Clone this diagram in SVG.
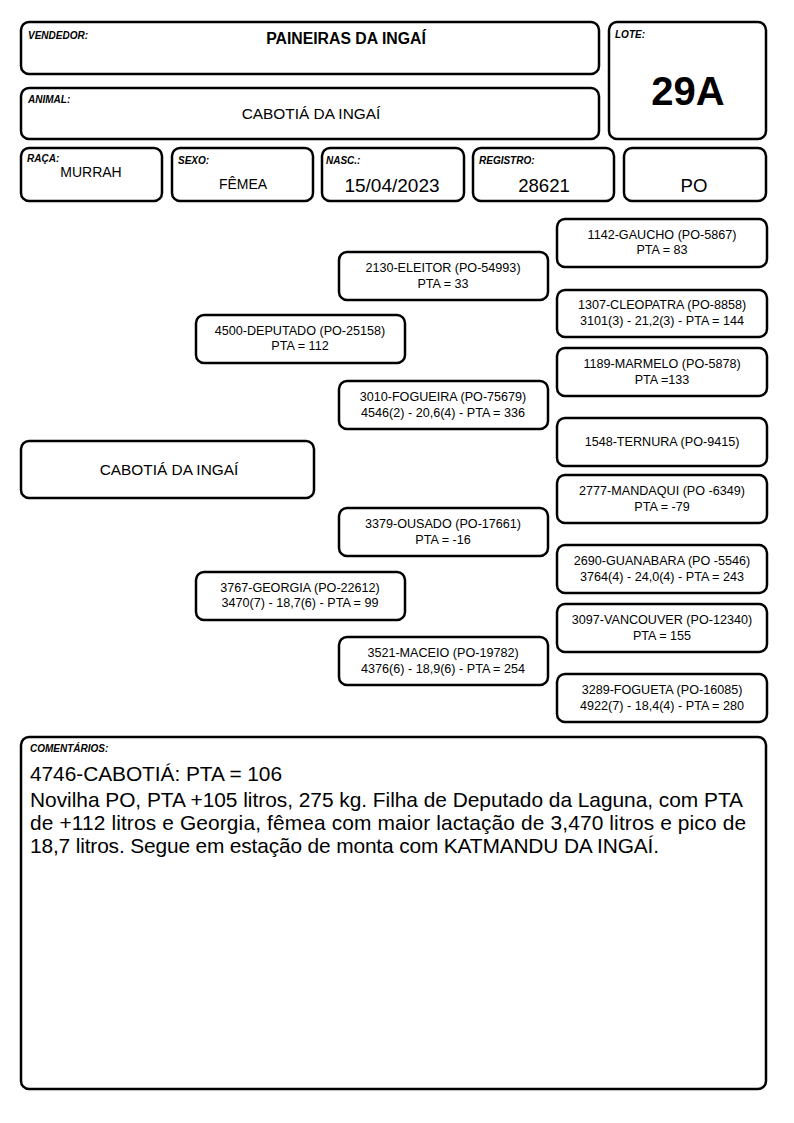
<svg xmlns="http://www.w3.org/2000/svg" width="794" height="1123" viewBox="0 0 794 1123">
<style>
.b{fill:#fff;stroke:#000;stroke-width:2.5}
.lbl{font-family:"Liberation Sans",Arial,sans-serif;font-size:10px;font-weight:bold;font-style:italic;fill:#000}
.t{font-family:"Liberation Sans",Arial,sans-serif;fill:#000;text-anchor:middle}
.p{font-family:"Liberation Sans",Arial,sans-serif;font-size:12.6px;fill:#000;text-anchor:middle}
.c{font-family:"Liberation Sans",Arial,sans-serif;font-size:20.9px;fill:#000}
</style>
<rect width="794" height="1123" fill="#fff"/>
<g id="vendedor"><rect class="b" x="21" y="22" width="578" height="52" rx="8"/><text class="lbl" x="28" y="39">VENDEDOR:</text><text class="t" x="346" y="44" font-size="15.8" font-weight="bold">PAINEIRAS DA INGAÍ</text></g>
<g id="animal"><rect class="b" x="21" y="88" width="578" height="51" rx="8"/><text class="lbl" x="28" y="103">ANIMAL:</text><text class="t" x="311" y="119" font-size="15.4">CABOTIÁ DA INGAÍ</text></g>
<g id="lote"><rect class="b" x="609" y="22" width="157" height="117" rx="8"/><text class="lbl" x="615" y="38">LOTE:</text><text class="t" x="688" y="105" font-size="40" font-weight="bold">29A</text></g>
<g id="raca"><rect class="b" x="21" y="148" width="141" height="53" rx="8"/><text class="lbl" x="27" y="162">RAÇA:</text><text class="t" x="91" y="177" font-size="14">MURRAH</text></g>
<g id="sexo"><rect class="b" x="172" y="148" width="141" height="53" rx="8"/><text class="lbl" x="178" y="164">SEXO:</text><text class="t" x="243" y="189" font-size="14">FÊMEA</text></g>
<g id="nasc"><rect class="b" x="322" y="148" width="142" height="53" rx="8"/><text class="lbl" x="326" y="164">NASC.:</text><text class="t" x="392" y="192" font-size="19">15/04/2023</text></g>
<g id="registro"><rect class="b" x="473" y="148" width="141" height="53" rx="8"/><text class="lbl" x="479" y="164">REGISTRO:</text><text class="t" x="544" y="192" font-size="18.6">28621</text></g>
<g id="po"><rect class="b" x="624" y="148" width="142" height="53" rx="8"/><text class="t" x="694" y="192" font-size="18.6">PO</text></g>

<g id="gaucho"><rect class="b" x="557" y="219" width="210" height="48" rx="8"/><text class="p" x="662" y="239">1142-GAUCHO (PO-5867)</text><text class="p" x="662" y="254">PTA = 83</text></g>
<g id="eleitor"><rect class="b" x="339" y="252" width="209" height="48" rx="8"/><text class="p" x="443" y="272">2130-ELEITOR (PO-54993)</text><text class="p" x="443" y="288">PTA = 33</text></g>
<g id="cleopatra"><rect class="b" x="557" y="290" width="210" height="47" rx="8"/><text class="p" x="662" y="309">1307-CLEOPATRA (PO-8858)</text><text class="p" x="662" y="325">3101(3) - 21,2(3) - PTA = 144</text></g>
<g id="deputado"><rect class="b" x="196" y="315" width="209" height="48" rx="8"/><text class="p" x="300" y="335">4500-DEPUTADO (PO-25158)</text><text class="p" x="300" y="350">PTA = 112</text></g>
<g id="marmelo"><rect class="b" x="557" y="348" width="210" height="48" rx="8"/><text class="p" x="662" y="368">1189-MARMELO (PO-5878)</text><text class="p" x="662" y="384">PTA =133</text></g>
<g id="fogueira"><rect class="b" x="339" y="381" width="209" height="48" rx="8"/><text class="p" x="443" y="401">3010-FOGUEIRA (PO-75679)</text><text class="p" x="443" y="417">4546(2) - 20,6(4) - PTA = 336</text></g>
<g id="ternura"><rect class="b" x="557" y="418" width="210" height="48" rx="8"/><text class="p" x="662" y="446">1548-TERNURA (PO-9415)</text></g>
<g id="cabotia"><rect class="b" x="21" y="441" width="293" height="57" rx="8"/><text class="t" x="169" y="475" font-size="15.4">CABOTIÁ DA INGAÍ</text></g>
<g id="mandaqui"><rect class="b" x="557" y="475" width="210" height="48" rx="8"/><text class="p" x="662" y="495">2777-MANDAQUI (PO -6349)</text><text class="p" x="662" y="511">PTA = -79</text></g>
<g id="ousado"><rect class="b" x="339" y="508" width="209" height="48" rx="8"/><text class="p" x="443" y="528">3379-OUSADO (PO-17661)</text><text class="p" x="443" y="544">PTA = -16</text></g>
<g id="guanabara"><rect class="b" x="557" y="545" width="210" height="48" rx="8"/><text class="p" x="662" y="565">2690-GUANABARA (PO -5546)</text><text class="p" x="662" y="581">3764(4) - 24,0(4) - PTA = 243</text></g>
<g id="georgia"><rect class="b" x="196" y="572" width="209" height="48" rx="8"/><text class="p" x="300" y="592">3767-GEORGIA (PO-22612)</text><text class="p" x="300" y="607">3470(7) - 18,7(6) - PTA = 99</text></g>
<g id="vancouver"><rect class="b" x="557" y="604" width="210" height="48" rx="8"/><text class="p" x="662" y="624">3097-VANCOUVER (PO-12340)</text><text class="p" x="662" y="640">PTA = 155</text></g>
<g id="maceio"><rect class="b" x="339" y="637" width="209" height="48" rx="8"/><text class="p" x="443" y="657">3521-MACEIO (PO-19782)</text><text class="p" x="443" y="673">4376(6) - 18,9(6) - PTA = 254</text></g>
<g id="fogueta"><rect class="b" x="557" y="674" width="210" height="48" rx="8"/><text class="p" x="662" y="694">3289-FOGUETA (PO-16085)</text><text class="p" x="662" y="710">4922(7) - 18,4(4) - PTA = 280</text></g>

<g id="connectors"></g>

<g id="comentarios"><rect class="b" x="21" y="737" width="745" height="352" rx="8"/><text class="lbl" x="30" y="752">COMENTÁRIOS:</text>
<text class="c" x="30" y="781" textLength="252" lengthAdjust="spacing">4746-CABOTIÁ: PTA = 106</text>
<text class="c" x="30" y="807" textLength="713" lengthAdjust="spacing">Novilha PO, PTA +105 litros, 275 kg. Filha de Deputado da Laguna, com PTA</text>
<text class="c" x="30" y="830" textLength="716" lengthAdjust="spacing">de +112 litros e Georgia, fêmea com maior lactação de 3,470 litros e pico de</text>
<text class="c" x="30" y="853" textLength="629" lengthAdjust="spacing">18,7 litros. Segue em estação de monta com KATMANDU DA INGAÍ.</text>
</g>
</svg>
